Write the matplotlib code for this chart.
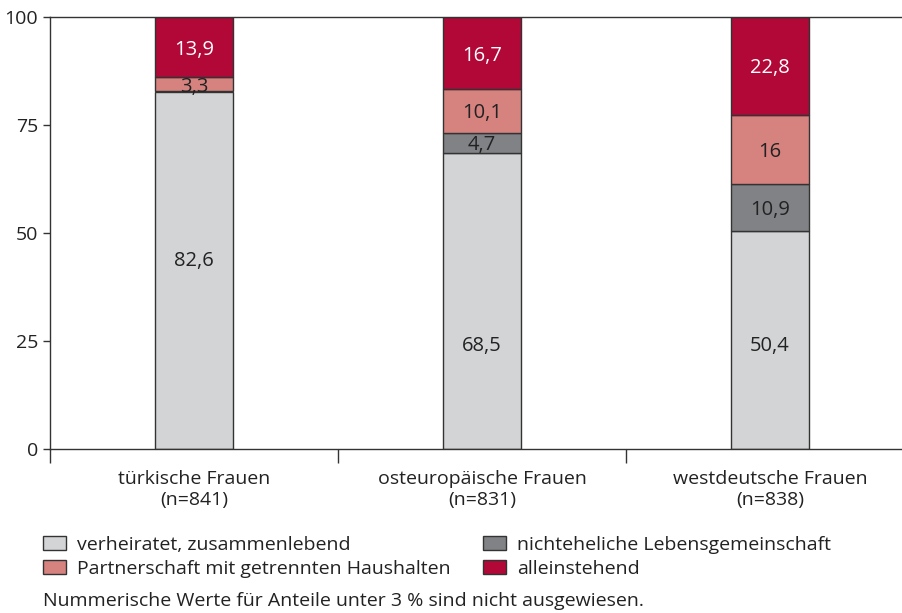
import numpy as np
import matplotlib.pyplot as plt

plt.rcParams['font.family'] = ['Open Sans', 'DejaVu Sans']

groups = ['türkische Frauen\n(n=841)', 'osteuropäische Frauen\n(n=831)', 'westdeutsche Frauen\n(n=838)']
verheiratet = [82.6, 68.5, 50.4]
nichtehelich = [0.2, 4.7, 10.9]
partnerschaft = [3.3, 10.1, 16.0]
alleinstehend = [13.9, 16.7, 22.8]

# where the original puts the labels of the big light grey segments
gray_label_y = [44.2, 24.5, 24.5]

series = [
    ('verheiratet, zusammenlebend', verheiratet, '#d3d4d6', '#222222'),
    ('nichteheliche Lebensgemeinschaft', nichtehelich, '#808285', '#222222'),
    ('Partnerschaft mit getrennten Haushalten', partnerschaft, '#d6827f', '#222222'),
    ('alleinstehend', alleinstehend, '#b20838', 'white'),
]

fig = plt.figure(figsize=(9.03, 6.13), dpi=100)
# axes runs a bit past the right edge of the figure, like the original
ax = fig.add_axes([50 / 903, 1 - 449 / 613, 864 / 903, 432 / 613])

x = np.arange(len(groups))
bottom = np.zeros(len(groups))
handles = []
for k, (name, vals, col, tcol) in enumerate(series):
    vals = np.array(vals)
    lw = [1.0 if v >= 1 else 0.0 for v in vals]
    b = ax.bar(x, vals, 0.27, bottom=bottom, color=col, edgecolor='#333333',
               linewidth=lw, label=name)
    handles.append(b)
    for i, (xi, v, bt) in enumerate(zip(x, vals, bottom)):
        if v >= 3:
            lab = ('%g' % v).replace('.', ',')
            ypos = gray_label_y[i] if k == 0 else bt + v / 2
            ax.text(xi, ypos, lab, ha='center', va='center_baseline',
                    fontsize=14.5, color=tcol)
    bottom += vals

ax.set_xlim(-0.5, 2.5)
ax.set_ylim(0, 100)
ax.set_yticks([0, 25, 50, 75, 100])
ax.tick_params(axis='y', length=5, width=1, colors='#333333', labelsize=14,
               labelcolor='#222222', pad=3.5)
ax.set_xticks(x)
ax.set_xticklabels(groups, fontsize=14, color='#222222', linespacing=1.25)
ax.tick_params(axis='x', length=0, pad=15)
ax.set_xticks([-0.5, 0.5, 1.5], minor=True)
ax.tick_params(axis='x', which='minor', length=10, width=1, color='#333333')

for s in ['left', 'bottom', 'top']:
    ax.spines[s].set_color('#333333')
    ax.spines[s].set_linewidth(1.0)
ax.spines['right'].set_visible(False)

order = [0, 2, 1, 3]
leg = fig.legend(handles=[handles[i] for i in order],
                 loc='upper left', bbox_to_anchor=(43 / 903, 1 - 536 / 613),
                 ncol=2, frameon=False, fontsize=14, handlelength=1.18,
                 handleheight=0.77, handletextpad=0.57, columnspacing=1.65,
                 labelspacing=0.3, borderaxespad=0, borderpad=0)
for t in leg.get_texts():
    t.set_color('#222222')
for h in leg.legend_handles:
    h.set_linewidth(1.0)

fig.text(43 / 903, 1 - 606 / 613, 'Nummerische Werte für Anteile unter 3 % sind nicht ausgewiesen.',
         fontsize=14, color='#222222', ha='left', va='baseline')

fig.savefig('out.png', dpi=100)
